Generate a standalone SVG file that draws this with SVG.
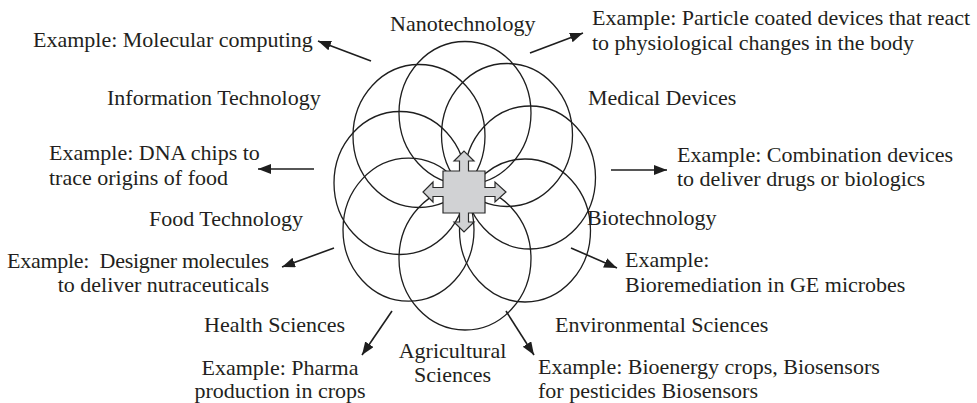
<svg xmlns="http://www.w3.org/2000/svg" width="977" height="403" viewBox="0 0 977 403">
  <style>
    text { font-family: "Liberation Serif", "DejaVu Serif", "Times New Roman", serif; font-size: 22px; fill: #231f20; }
    .mid { text-anchor: middle; }
    .end { text-anchor: end; }
    .pre { white-space: pre; }
    .ring { fill: none; stroke: #1e1e1e; stroke-width: 1.3; }
    .arrow { fill: none; stroke: #1e1e1e; stroke-width: 1.6; marker-end: url(#head); }
  </style>
  <defs>
    <marker id="head" markerUnits="userSpaceOnUse" markerWidth="14" markerHeight="11" refX="13" refY="5" orient="auto">
      <path d="M0,0 L13,5 L0,10 Z" fill="#1e1e1e"/>
    </marker>
  </defs>
  <rect width="977" height="403" fill="#ffffff"/>

  <!-- overlapping rings of disciplines -->
  <g id="rings">
    <ellipse class="ring" cx="465" cy="113" rx="66" ry="71.5"/>
    <ellipse class="ring" cx="507" cy="135" rx="65.5" ry="71.5"/>
    <ellipse class="ring" cx="530" cy="177.5" rx="65.5" ry="71.5"/>
    <ellipse class="ring" cx="525" cy="230.5" rx="65.5" ry="71.5"/>
    <ellipse class="ring" cx="465" cy="258.5" rx="66" ry="71.5"/>
    <ellipse class="ring" cx="408.5" cy="229.7" rx="65.5" ry="71.5"/>
    <ellipse class="ring" cx="400" cy="183" rx="66" ry="71.5"/>
    <ellipse class="ring" cx="419" cy="136" rx="66" ry="71.5"/>
  </g>

  <!-- four-way arrow at the hub -->
  <g id="hub">
    <path d="M443 171 L459.5 171 L459.5 161 L454 161 L464 151 L474 161 L468.5 161 L468.5 171 L485 171 L485 187.5 L495 187.5 L495 182 L506 192 L495 202 L495 196.5 L485 196.5 L485 213 L468.5 213 L468.5 222 L474 222 L464 232 L454 222 L459.5 222 L459.5 213 L443 213 L443 196.5 L433 196.5 L433 202 L423 192 L433 182 L433 187.5 L443 187.5 Z" fill="#d1d2d4" stroke="#2a2a2a" stroke-width="1.2" stroke-linejoin="miter"/>
  </g>

  <!-- connectors -->
  <g id="connectors">
    <line class="arrow" x1="371" y1="61" x2="318" y2="41"/>
    <line class="arrow" x1="530" y1="53" x2="583" y2="33"/>
    <line class="arrow" x1="314" y1="169" x2="258" y2="169"/>
    <line class="arrow" x1="611" y1="170" x2="667" y2="170"/>
    <line class="arrow" x1="334" y1="248" x2="282" y2="267"/>
    <line class="arrow" x1="571" y1="248" x2="617" y2="268"/>
    <line class="arrow" x1="392" y1="311" x2="362" y2="355"/>
    <line class="arrow" x1="506" y1="311" x2="534" y2="355"/>
  </g>

  <g id="nanotechnology">
    <text x="390" y="31">Nanotechnology</text>
  </g>
  <g id="nano-example">
    <text x="33" y="47">Example: Molecular computing</text>
  </g>
  <g id="medical-example">
    <text x="592" y="25">Example: Particle coated devices that react</text>
    <text x="592" y="50">to physiological changes in the body</text>
  </g>
  <g id="information-technology">
    <text x="107" y="105">Information Technology</text>
  </g>
  <g id="medical-devices">
    <text x="588" y="105">Medical Devices</text>
  </g>
  <g id="it-example">
    <text x="49" y="160">Example: DNA chips to</text>
    <text x="49" y="185">trace origins of food</text>
  </g>
  <g id="biotech-example">
    <text x="677" y="162">Example: Combination devices</text>
    <text x="677" y="186">to deliver drugs or biologics</text>
  </g>
  <g id="food-technology">
    <text x="149" y="226">Food Technology</text>
  </g>
  <g id="biotechnology">
    <text x="587" y="225">Biotechnology</text>
  </g>
  <g id="food-example">
    <text class="pre" x="7" y="268" textLength="262" lengthAdjust="spacing">Example:  Designer molecules</text>
    <text class="end" x="269" y="292">to deliver nutraceuticals</text>
  </g>
  <g id="environment-example">
    <text x="625" y="267">Example:</text>
    <text x="625" y="292">Bioremediation in GE microbes</text>
  </g>
  <g id="health-sciences">
    <text x="204" y="332">Health Sciences</text>
  </g>
  <g id="environmental-sciences">
    <text x="555" y="332">Environmental Sciences</text>
  </g>
  <g id="health-example">
    <text class="mid" x="280" y="375">Example: Pharma</text>
    <text class="mid" x="280" y="398">production in crops</text>
  </g>
  <g id="agricultural-sciences">
    <text class="mid" x="452.5" y="358">Agricultural</text>
    <text class="mid" x="452.5" y="382">Sciences</text>
  </g>
  <g id="agriculture-example">
    <text x="538" y="374" font-size="21.5">Example: Bioenergy crops, Biosensors</text>
    <text x="538" y="398" font-size="21.5">for pesticides Biosensors</text>
  </g>
</svg>
